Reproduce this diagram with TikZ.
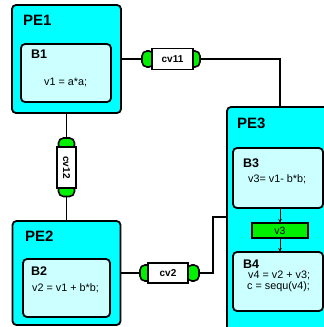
\documentclass[tikz,border=0pt]{standalone}
\usepackage{fontspec}
\setmainfont{Liberation Sans}
\usetikzlibrary{arrows.meta}
\definecolor{pecyan}{RGB}{0,255,255}
\definecolor{blkcyan}{RGB}{204,255,255}
\definecolor{cvgreen}{RGB}{0,240,0}
\begin{document}
\begin{tikzpicture}[x=1pt,y=-1pt,
  pebox/.style={draw,line width=1.8pt,fill=pecyan,rounded corners=4pt,inner sep=0pt,outer sep=0pt},
  blkbox/.style={draw,line width=1.8pt,fill=blkcyan,rounded corners=4pt,inner sep=0pt,outer sep=0pt},
  varbox/.style={draw,line width=1.4pt,fill=cvgreen,inner sep=0pt,outer sep=0pt},
  cvbox/.style={draw,line width=1.6pt,fill=white,inner sep=0pt,outer sep=0pt,font=\bfseries\fontsize{10}{11}\selectfont},
  cvcap/.style={draw,line width=1.6pt,fill=cvgreen,rounded corners=5pt,inner sep=0pt,outer sep=0pt},
  conn/.style={line width=1.6pt},
  arr/.style={line width=0.8pt,-{Stealth[length=4pt,width=3.5pt]}},
  pelabel/.style={anchor=base west,inner sep=0pt,font=\bfseries\fontsize{15}{17}\selectfont},
  blabel/.style={anchor=base west,inner sep=0pt,font=\bfseries\fontsize{12.5}{14}\selectfont},
  code/.style={anchor=base west,inner sep=0pt,font=\fontsize{10.8}{12}\selectfont}
]
\useasboundingbox (0,0) rectangle (324,327);
\clip (0,0) rectangle (324,327);

% process elements
\node[pebox,minimum width=109pt,minimum height=108pt] (pe1) at (66.5,59) {};
\node[pebox,minimum width=108pt,minimum height=104pt] (pe2) at (66.5,273) {};
\node[pebox,minimum width=113pt,minimum height=238pt] (pe3) at (283.5,226) {};

% blocks
\node[blkbox,minimum width=90pt,minimum height=58pt] (b1) at (66,73) {};
\node[blkbox,minimum width=87pt,minimum height=58pt] (b2) at (66.5,288) {};
\node[blkbox,minimum width=90pt,minimum height=60pt] (b3) at (278,178) {};
\node[blkbox,minimum width=90pt,minimum height=59pt] (b4) at (278,281.5) {};
\node[varbox,minimum width=56pt,minimum height=15pt,font=\fontsize{10.5}{11}\selectfont] (v3) at (280,230.5) {v3};

% labels
\node[pelabel] (pe1t) at (23,25) {PE1};
\node[pelabel] (pe2t) at (25,241) {PE2};
\node[pelabel] (pe3t) at (237,128) {PE3};
\node[blabel] (b1t) at (31,58) {B1};
\node[blabel] (b2t) at (31,275) {B2};
\node[blabel] (b3t) at (243,167) {B3};
\node[blabel] (b4t) at (243,268) {B4};
\node[code] (b1c) at (44,85) {v1 = a*a;};
\node[code] (b2c) at (32,291) {v2 = v1 + b*b;};
\node[code] (b3c) at (248,182) {v3= v1- b*b;};
\node[code] (b4c) at (248,278) {v4 = v2 + v3;};
\node[code] (b4d) at (247,289) {c = sequ(v4);};

% channel cv11
\node[cvcap,minimum width=12pt,minimum height=16pt] (cv11l) at (148,59) {};
\node[cvcap,minimum width=12pt,minimum height=16pt] (cv11r) at (194,59) {};
\node[cvbox,minimum width=41pt,minimum height=21pt] (cv11) at (172.5,59) {cv11};

% channel cv12
\node[cvcap,minimum width=16pt,minimum height=12pt] (cv12t) at (66.5,144) {};
\node[cvcap,minimum width=16pt,minimum height=12pt] (cv12b) at (66.5,190.5) {};
\node[cvbox,minimum width=19pt,minimum height=41pt] (cv12) at (66.5,167.5) {\rotatebox{-90}{cv12}};

% channel cv2
\node[cvcap,minimum width=12pt,minimum height=16pt] (cv2l) at (146,273) {};
\node[cvcap,minimum width=12pt,minimum height=16pt] (cv2r) at (193,273) {};
\node[cvbox,minimum width=40pt,minimum height=20pt] (cv2) at (168,273) {cv2};

% connections
\coordinate (k1) at (280,59);
\coordinate (k2) at (213,273);
\coordinate (k3) at (213,217);
\draw[conn] (pe1.east) -- (cv11l.west);
\draw[conn] (cv11r.east) -- (k1) -- (k1 |- pe3.north);
\draw[conn] (pe1.south) -- (cv12t.north);
\draw[conn] (cv12b.south) -- (pe2.north);
\draw[conn] (pe2.east) -- (cv2l.west);
\draw[conn] (cv2r.east) -- (k2) -- (k3) -- (k3 -| pe3.west);
\draw[arr] (v3.north |- b3.south) -- (v3.north);
\draw[arr] (v3.south) -- (v3.south |- b4.north);
\end{tikzpicture}
\end{document}
